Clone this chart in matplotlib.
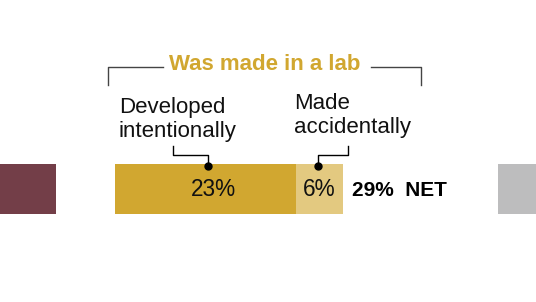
import matplotlib.pyplot as plt

# valores (%)
categorias = ['Came about naturally', 'Developed intentionally', 'Made accidentally', 'Not sure']
valores = [43, 23, 6, 25]
cores = ['#733E48', '#D1A730', '#E3C980', '#BDBDBE']
rotulos = ['', '23%', '6%', '']

natural, intencional, acidental, incerto = valores
net = intencional + acidental

plt.rcParams['font.family'] = ['Liberation Sans', 'DejaVu Sans']

fig = plt.figure(figsize=(5.36, 3.02), dpi=100)
ax = fig.add_axes([0, 0, 1, 1])

esc = 7.85        # px por ponto percentual
gap_esq = 7.5
gap_dir = 19.75

# posicoes de inicio de cada segmento
lefts = [-gap_esq - natural, 0, intencional, net + gap_dir]
desloc = [0, 1.0, 0, 0]   # ajuste horizontal dos rotulos
y_bar = 189
for v, l, c, r, d in zip(valores, lefts, cores, rotulos, desloc):
    ax.barh(y_bar, v, left=l, height=50, color=c)
    if r:
        ax.text(l + v / 2 + d, y_bar + 1, r, ha='center', va='center', fontsize=16.3, color='#111111')

ax.text(net + 1.2, y_bar + 1, f'{net}%  NET', ha='left', va='center', fontsize=15,
        fontweight='bold', color='black')

# chave "Was made in a lab"
x0 = -7 / esc
x1 = (421 - 115) / esc
ax.text((x0 + x1) / 2, 65, 'Was made in a lab', ha='center', va='center', fontsize=16,
        fontweight='bold', color='#D1A730')
lc = '#444444'
ax.plot([x0, x0, (163 - 115) / esc], [85, 67, 67], color=lc, lw=1)
ax.plot([(371 - 115) / esc, x1, x1], [67, 67, 85], color=lc, lw=1)

# rotulos com linhas de chamada
c1 = intencional / 2 + 0.3
c2 = intencional + acidental / 2 - 0.2
ax.text((119 - 115) / esc, 137, 'Developed\nintentionally', ha='left', va='baseline',
        fontsize=16, color='#111111', linespacing=1.19)
ax.text((294 - 115) / esc, 133, 'Made\naccidentally', ha='left', va='baseline',
        fontsize=16, color='#111111', linespacing=1.19)

ax.plot([(173 - 115) / esc, (173 - 115) / esc, c1, c1], [146, 155, 155, 166], color='black', lw=1)
ax.plot([(348 - 115) / esc, (348 - 115) / esc, c2, c2], [146, 155, 155, 166], color='black', lw=1)
ax.plot([c1, c2], [166, 166], 'o', color='black', ms=5)

ax.set_xlim(-115 / esc, (536 - 115) / esc)
ax.set_ylim(302, 0)
ax.axis('off')

fig.savefig('out.png', dpi=100)
